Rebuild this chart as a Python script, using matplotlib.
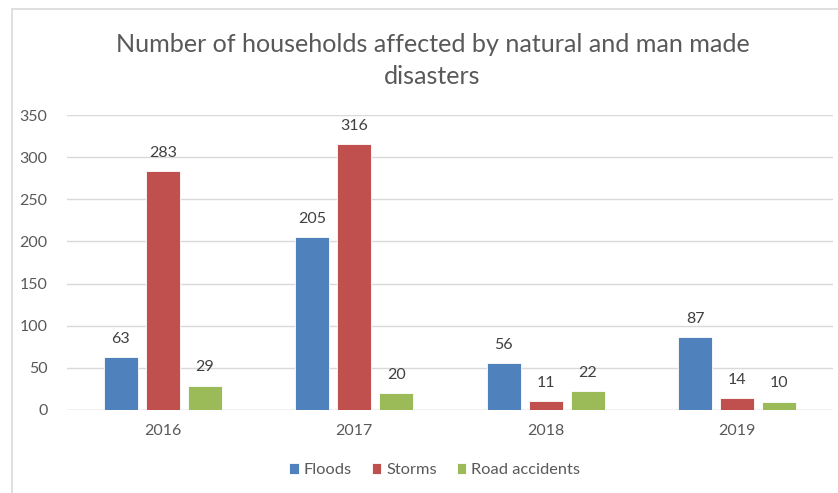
import numpy as np
import matplotlib
matplotlib.use("Agg")
import matplotlib.pyplot as plt
from matplotlib.patches import Rectangle

# households affected per year
years = ["2016", "2017", "2018", "2019"]
floods = [63, 205, 56, 87]
storms = [283, 316, 11, 14]
road_accidents = [29, 20, 22, 10]

series = [
    ("Floods", floods, "#4F81BD"),
    ("Storms", storms, "#C0504D"),
    ("Road accidents", road_accidents, "#9BBB59"),
]

plt.rcParams["font.family"] = ["Lato", "DejaVu Sans"]
text_col = "#595959"

fig = plt.figure(figsize=(8.38, 4.93), dpi=100)
ax = fig.add_axes([0.080, 0.1684, 0.914, 0.5983])

# chart frame
fig.patches.append(Rectangle((12 / 838, -0.1), 1.2, 1 - 9 / 493 + 0.1,
                             transform=fig.transFigure, fill=False,
                             edgecolor="#D9D9D9", linewidth=1.2))

x = np.arange(len(years))
width = 0.178
step = 0.22
for i, (name, vals, col) in enumerate(series):
    pos = x + (i - 1) * step
    bars = ax.bar(pos, vals, width, color=col, label=name,
                  edgecolor="white", linewidth=0.6, zorder=3)
    for b, v in zip(bars, vals):
        ax.annotate(str(v), (b.get_x() + b.get_width() / 2, v),
                    xytext=(0, 8), textcoords="offset points",
                    ha="center", va="bottom", fontsize=11.5, color="#404040")

ax.set_xlim(-0.5, len(years) - 0.5)
ax.set_ylim(0, 350)
ax.set_yticks(range(0, 351, 50))
ax.set_xticks(x)
ax.set_xticklabels(years)
ax.grid(axis="y", color="#D9D9D9", linewidth=1, zorder=0)
for s in ax.spines.values():
    s.set_visible(False)
ax.axhline(0, color="#D9D9D9", linewidth=1, zorder=2)
ax.tick_params(length=0, labelsize=11.5, colors=text_col)
ax.tick_params(axis="y", pad=14)
ax.tick_params(axis="x", pad=10)

fig.text(0.516, 0.877, "Number of households affected by natural and man made\ndisasters",
         ha="center", va="center", fontsize=18.1, color=text_col,
         linespacing=1.5)

ax.legend(loc="center", bbox_to_anchor=(0.5 - 0.02, -0.205), ncol=3, frameon=False,
          fontsize=11.8, labelcolor=text_col, handlelength=0.6, handleheight=0.6,
          handletextpad=0.3, columnspacing=1.2)

fig.savefig("out.png", dpi=100)
